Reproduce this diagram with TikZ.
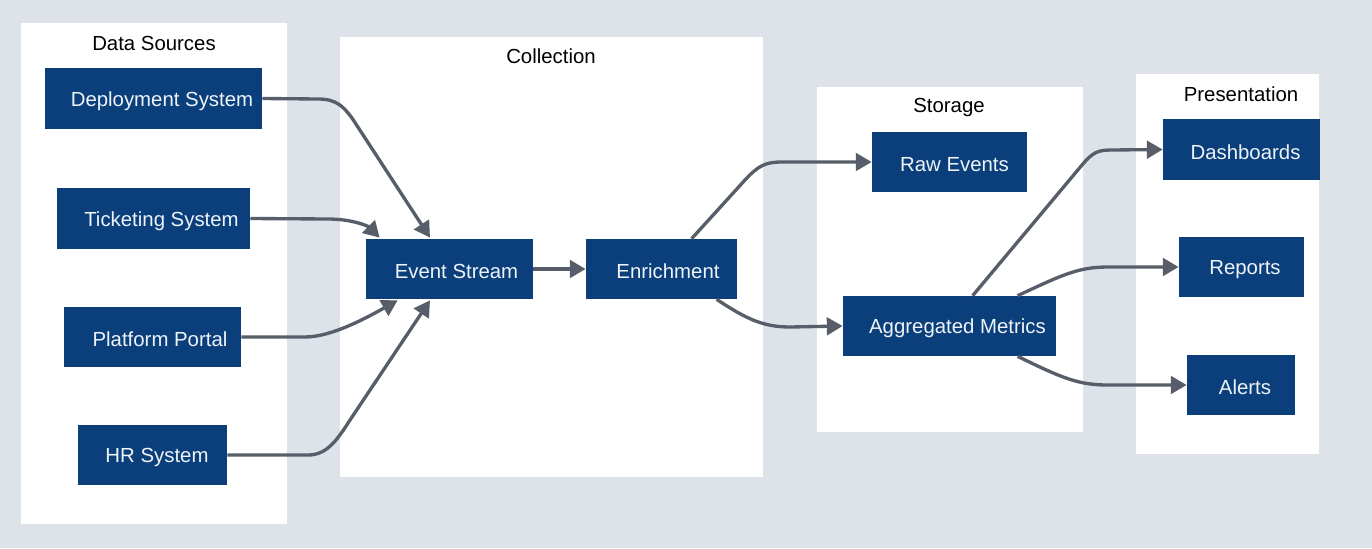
\documentclass[tikz,border=0pt]{standalone}
\usepackage{fontspec}
\setmainfont{Liberation Sans}
\usetikzlibrary{arrows.meta,calc}
\definecolor{bg}{HTML}{DEE2E9}
\definecolor{boxblue}{HTML}{0B3F7C}
\definecolor{edgegrey}{HTML}{575E69}
\definecolor{boxtext}{HTML}{EEF3F8}
\tikzset{
  cluster/.style={fill=white, draw=none},
  ctitle/.style={text=black, font=\fontsize{11.6}{14}\selectfont, inner sep=0pt},
  box/.style={fill=boxblue, draw=none, inner sep=0pt},
  btext/.style={text=boxtext, font=\fontsize{11.6}{14}\selectfont, inner sep=0pt},
  conn/.style={draw=edgegrey, line width=1.9pt, -{Triangle[length=9pt,width=10pt]}},
}
\begin{document}
\begin{tikzpicture}[x=0.02cm,y=-0.02cm]
\useasboundingbox (0,0) rectangle (1372,548);
\fill[bg] (0,0) rectangle (1372,548);
% clusters
\fill[cluster] (21,23) rectangle (287,524);
\fill[cluster] (340,37) rectangle (763,477);
\fill[cluster] (817,87) rectangle (1083,432);
\fill[cluster] (1136,74) rectangle (1319,454);
\node[ctitle] (tDS) at (154,43) {Data Sources};
\node[ctitle] (tCO) at (551,56) {Collection};
\node[ctitle] (tST) at (949,107) {Storage};
\node[ctitle] (tPR) at (1241,94) {Presentation};
% boxes
\node[box, minimum width=217*0.02cm, minimum height=61*0.02cm] (D) at (153.5,98.5) {};
\node[box, minimum width=193*0.02cm, minimum height=61*0.02cm] (T) at (153.5,218.5) {};
\node[box, minimum width=177*0.02cm, minimum height=60*0.02cm] (P) at (152.5,337) {};
\node[box, minimum width=149*0.02cm, minimum height=60*0.02cm] (H) at (152.5,455) {};
\node[box, minimum width=167*0.02cm, minimum height=60*0.02cm] (ES) at (449.5,269) {};
\node[box, minimum width=151*0.02cm, minimum height=60*0.02cm] (EN) at (661.5,269) {};
\node[box, minimum width=155*0.02cm, minimum height=60*0.02cm] (RE) at (949.5,162) {};
\node[box, minimum width=213*0.02cm, minimum height=60*0.02cm] (AM) at (949.5,326) {};
\node[box, minimum width=157*0.02cm, minimum height=61*0.02cm] (DB) at (1241.5,149.5) {};
\node[box, minimum width=125*0.02cm, minimum height=60*0.02cm] (RP) at (1241.5,267) {};
\node[box, minimum width=108*0.02cm, minimum height=60*0.02cm] (AL) at (1241,385) {};
% texts
\node[btext] at (162,101.5) {Deployment System};
\node[btext] at (161.5,221.5) {Ticketing System};
\node[btext] at (160,339.5) {Platform Portal};
\node[btext] at (157,457.5) {HR System};
\node[btext] at (456.5,271.5) {Event Stream};
\node[btext] at (668,271.5) {Enrichment};
\node[btext] at (954.5,164.5) {Raw Events};
\node[btext] at (957.5,328.5) {Aggregated Metrics};
\node[btext] at (1245.5,152.5) {Dashboards};
\node[btext] at (1245,269.5) {Reports};
\node[btext] at (1245,387.5) {Alerts};
% connectors
\draw[conn] (D.east) -- (318,99) .. controls (336,99) and (343,106) .. (352,118) -- ($(ES.north)+(-19.5,-1)$);
\draw[conn] (T.east) -- (328,219) .. controls (352,219) and (368,226) .. ($(ES.north west)+(14,-1)$);
\draw[conn] (P.east) -- (305,337) .. controls (332,337) and (368,317) .. ($(ES.south west)+(32,1)$);
\draw[conn] (H.east) -- (308,455) .. controls (326,455) and (336,442) .. (350,420) -- ($(ES.south)+(-19.5,1)$);
\draw[conn] (ES.east) -- (EN.west);
\draw[conn] ($(EN.north west)+(106,0)$) -- (745,180) .. controls (758,166) and (765,162) .. (782,162) -- (RE.west);
\draw[conn] ($(EN.south west)+(131,0)$) .. controls (745,318) and (762,327) .. (790,327) -- (AM.west);
\draw[conn] ($(AM.north west)+(130,0)$) -- (1082,165) .. controls (1093,152) and (1098,150) .. (1112,150) -- (DB.west);
\draw[conn] ($(AM.north west)+(175,0)$) .. controls (1062,275) and (1078,267) .. (1108,267) -- (RP.west);
\draw[conn] ($(AM.south west)+(175,0)$) .. controls (1062,378) and (1078,385) .. (1108,385) -- (AL.west);
\end{tikzpicture}
\end{document}
